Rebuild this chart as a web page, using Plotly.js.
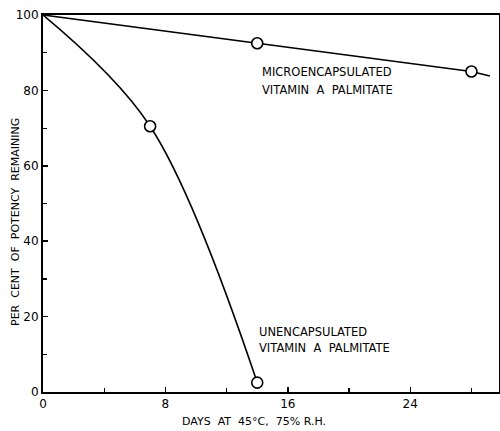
<!DOCTYPE html>
<html>
<head>
<meta charset="utf-8">
<script src="https://cdn.plot.ly/plotly-3.0.1.min.js"></script>
<style>html,body{margin:0;padding:0;background:#fff;}#chart{width:500px;height:431px;}</style>
</head>
<body>
<div id="chart"></div>
<script>
// Data
const microDays = [0, 14, 28];
const microPotency = [100, 92.5, 85];
const microLineDays = [0, 14, 28, 29.2];
const microLinePotency = [100, 92.5, 85, 83.8];
const unencDays = [0, 7, 14];
const unencPotency = [100, 70.5, 2.5];
const xTicks = [0, 8, 16, 24];
const yTicks = [0, 20, 40, 60, 80, 100];

const F = 'DejaVu Sans, Liberation Sans, Arial, sans-serif';
const NB = '\u00a0';

const traces = [
  {x: microLineDays, y: microLinePotency, mode: 'lines', line: {color: '#000', width: 1.6}, hoverinfo: 'skip', showlegend: false},
  {x: unencDays, y: unencPotency, mode: 'lines', line: {color: '#000', width: 1.6, shape: 'spline', smoothing: 1}, hoverinfo: 'skip', showlegend: false},
  {x: microDays.slice(1), y: microPotency.slice(1), mode: 'markers', marker: {size: 11, color: '#fff', line: {color: '#000', width: 1.6}}, showlegend: false},
  {x: unencDays.slice(1), y: unencPotency.slice(1), mode: 'markers', marker: {size: 11, color: '#fff', line: {color: '#000', width: 1.6}}, showlegend: false}
];

const layout = {
  width: 500, height: 431,
  margin: {l: 43, r: 1, t: 15, b: 39, pad: 0},
  paper_bgcolor: '#fff', plot_bgcolor: '#fff',
  font: {family: F, color: '#000', size: 12},
  showlegend: false,
  xaxis: {
    range: [0, 29.8], tickvals: xTicks, ticktext: xTicks.map(String),
    ticks: 'inside', ticklen: 5, tickwidth: 1.5, tickcolor: '#000',
    minor: {tickvals: [4, 12, 20, 28], ticks: 'inside', ticklen: 4, tickwidth: 1.2, tickcolor: '#000', showgrid: false},
    showline: true, linecolor: '#000', linewidth: 2, mirror: true,
    showgrid: false, zeroline: false, tickfont: {family: F, size: 12}
  },
  yaxis: {
    range: [0, 100], tickvals: yTicks, ticktext: yTicks.map(String),
    ticks: 'inside', ticklen: 5, tickwidth: 1.5, tickcolor: '#000',
    minor: {tickvals: [10, 30, 50, 70, 90], ticks: 'inside', ticklen: 4, tickwidth: 1.2, tickcolor: '#000', showgrid: false},
    showline: true, linecolor: '#000', linewidth: 2, mirror: true,
    showgrid: false, zeroline: false, tickfont: {family: F, size: 12}
  },
  annotations: [
    {x: 14.2, y: 84.9, xref: 'x', yref: 'y', xanchor: 'left', yanchor: 'middle', showarrow: false,
     text: 'MICROENCAPSULATED', font: {family: F, size: 11.5}},
    {x: 14.2, y: 80.2, xref: 'x', yref: 'y', xanchor: 'left', yanchor: 'middle', showarrow: false,
     text: 'VITAMIN' + NB + ' A ' + NB + 'PALMITATE', font: {family: F, size: 11.5}},
    {x: 14.0, y: 15.8, xref: 'x', yref: 'y', xanchor: 'left', yanchor: 'middle', showarrow: false,
     text: 'UNENCAPSULATED', font: {family: F, size: 11.5}},
    {x: 14.0, y: 11.6, xref: 'x', yref: 'y', xanchor: 'left', yanchor: 'middle', showarrow: false,
     text: 'VITAMIN' + NB + ' A ' + NB + 'PALMITATE', font: {family: F, size: 11.5}},
    {x: 0.463, y: -0.079, xref: 'paper', yref: 'paper', xanchor: 'center', yanchor: 'middle', showarrow: false,
     text: 'DAYS' + NB + ' AT ' + NB + '45°C, ' + NB + '75% R.H.', font: {family: F, size: 11}},
    {x: -0.06, y: 0.45, xref: 'paper', yref: 'paper', xanchor: 'center', yanchor: 'middle', showarrow: false, textangle: -90,
     text: 'PER' + NB + ' CENT ' + NB + 'OF' + NB + ' POTENCY ' + NB + 'REMAINING', font: {family: F, size: 11}}
  ]
};

Plotly.newPlot('chart', traces, layout, {displayModeBar: false, staticPlot: true});
</script>
</body>
</html>
